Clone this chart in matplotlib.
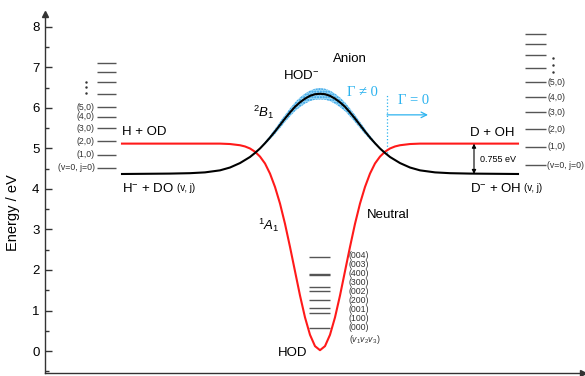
import numpy as np
import matplotlib
matplotlib.use("Agg")
import matplotlib.pyplot as plt
from matplotlib.ticker import MultipleLocator

plt.rcParams['font.family'] = ['Liberation Sans', 'DejaVu Sans']
plt.rcParams['mathtext.fontset'] = 'custom'
plt.rcParams['mathtext.rm'] = 'Liberation Sans'
plt.rcParams['mathtext.it'] = 'Liberation Sans:italic'

# reaction coordinate (arbitrary units, barrier top at 0)
neutral_q = [-198, -100, -90, -80, -75, -70, -65, -60, -55, -50, -45, -40, -35,
             -30, -25, -20, -15, -10, -5, 0, 5, 10, 15, 20, 25, 30, 35, 40, 45,
             50, 55, 60, 65, 70, 75, 80, 90, 100, 198]
neutral_E = [5.12, 5.12, 5.11, 5.08, 5.05, 5.00, 4.92, 4.80, 4.63, 4.38, 4.05, 3.64, 3.14,
             2.57, 1.97, 1.37, 0.83, 0.40, 0.12, 0.02, 0.12, 0.40, 0.83, 1.37, 1.97, 2.57, 3.14, 3.64, 4.05,
             4.38, 4.63, 4.80, 4.92, 5.00, 5.05, 5.08, 5.11, 5.12, 5.12]

anion_q = [-198, -150, -130, -115, -100, -90, -80, -70, -65, -60, -55, -50, -45, -40,
           -35, -30, -25, -20, -15, -10, -5, 0, 5, 10, 15, 20, 25, 30, 35,
           40, 45, 50, 55, 60, 65, 70, 80, 90, 100, 115, 130, 150, 198]
anion_E = [4.37, 4.38, 4.39, 4.41, 4.46, 4.53, 4.64, 4.79, 4.89, 5.00, 5.13, 5.27, 5.42, 5.58,
           5.74, 5.89, 6.03, 6.14, 6.23, 6.30, 6.34, 6.35, 6.34, 6.30, 6.23, 6.14, 6.03, 5.89, 5.74,
           5.58, 5.42, 5.27, 5.13, 5.00, 4.89, 4.79, 4.64, 4.53, 4.46, 4.41, 4.39, 4.38, 4.37]

# half width of the autodetachment band (Gamma != 0) between the crossings
band_q = [-65, -60, -55, -50, -45, -40, -35, -30, -25, -20, -15, -10, -5, 0,
          5, 10, 15, 20, 25, 30, 35, 40, 45, 50, 55, 60, 65]
band_half = [0.0, 0.015, 0.03, 0.05, 0.065, 0.08, 0.09, 0.10, 0.11, 0.12, 0.125, 0.13, 0.135, 0.14,
             0.135, 0.13, 0.125, 0.12, 0.11, 0.10, 0.09, 0.08, 0.065, 0.05, 0.03, 0.015, 0.0]

# OD(v, j) levels on the H + OD side, OH(v, j) levels on the D + OH side
od_levels = [4.53, 4.85, 5.18, 5.50, 5.78, 6.02, 6.34, 6.63, 6.88, 7.12]
oh_levels = [4.59, 5.04, 5.48, 5.89, 6.26, 6.63, 6.98, 7.32, 7.59, 7.83]
vj_labels = ['(v=0, j=0)', '(1,0)', '(2,0)', '(3,0)', '(4,0)', '(5,0)']

# HOD vibrational levels (v1 v2 v3)
hod_levels = [0.58, 0.95, 1.06, 1.25, 1.49, 1.57, 1.87, 1.91, 2.31]
hod_labels = ['(000)', '(100)', '(001)', '(200)', '(002)', '(300)', '(400)', '(003)', '(004)']

cyan = '#2db3ef'
grey = '#555555'

fig = plt.figure(figsize=(5.85, 3.76), dpi=100)
ax = fig.add_axes([45 / 585, 3 / 376, 538 / 585, 359 / 376])
ax.set_xlim(-275, 263)
ax.set_ylim(-0.543, 8.32)

# band + curves
aq = np.array(anion_q)
aE = np.array(anion_E)
mid = aE[np.isin(aq, band_q)]
bh = np.array(band_half)
ax.fill_between(band_q, mid - bh, mid + bh, facecolor='#9ad8f5', edgecolor='#2a9be6',
                hatch='......', linewidth=0, zorder=2)
ax.plot(neutral_q, neutral_E, color='#ff1a1a', lw=1.5, zorder=3)
ax.plot(anion_q, anion_E, color='black', lw=1.5, zorder=4)

# level ladders
ax.hlines(od_levels, -223, -204, color=grey, lw=1.0)
for e, lab in zip(od_levels, vj_labels):
    ax.text(-225, e, lab, ha='right', va='center', fontsize=6.3, color='#333333')
ax.plot([-234] * 3, [6.36, 6.51, 6.65], ls='none', marker='.', ms=1.5, color='#333333')

ax.hlines(oh_levels, 205, 226, color=grey, lw=1.0)
for e, lab in zip(oh_levels, vj_labels):
    ax.text(227, e, lab, ha='left', va='center', fontsize=6.3, color='#333333')
ax.plot([233] * 3, [6.89, 7.06, 7.23], ls='none', marker='.', ms=1.5, color='#333333')

ax.hlines(hod_levels, -11, 10, color=grey, lw=1.0)
lab_y = np.linspace(0.585, 2.35, len(hod_labels))
for y, lab in zip(lab_y, hod_labels):
    ax.text(29, y, lab, ha='left', va='center', fontsize=6.3, color='#333333')
ax.text(29, 0.28, r'$(v_1v_2v_3)$', ha='left', va='center', fontsize=6.3, color='#333333')

# asymptote / state labels
fs = 9.5
ax.text(-198, 5.41, 'H + OD', ha='left', va='center', fontsize=fs)
ax.text(-198, 4.02, r'H$^{-}$ + DO', ha='left', va='center', fontsize=fs)
ax.text(-143, 4.02, '(v, j)', ha='left', va='center', fontsize=7)
ax.text(195, 5.38, 'D + OH', ha='right', va='center', fontsize=fs)
ax.text(150, 4.02, r'D$^{-}$ + OH', ha='left', va='center', fontsize=fs)
ax.text(204, 4.02, '(v, j)', ha='left', va='center', fontsize=7)
ax.annotate('', xy=(154, 4.37), xytext=(154, 5.12),
            arrowprops=dict(arrowstyle='<|-|>', color='black', lw=0.8,
                            mutation_scale=6, shrinkA=0, shrinkB=0))
ax.text(160, 4.73, '0.755 eV', ha='left', va='center', fontsize=6.5)

ax.text(30, 7.21, 'Anion', ha='center', va='center', fontsize=fs)
ax.text(-19, 6.79, r'HOD$^{-}$', ha='center', va='center', fontsize=fs)
ax.text(-56, 5.88, r'$^2B_1$', ha='center', va='center', fontsize=fs)
ax.text(68, 3.36, 'Neutral', ha='center', va='center', fontsize=fs)
ax.text(-51, 3.11, r'$^1A_1$', ha='center', va='center', fontsize=fs)
ax.text(-27, -0.05, 'HOD', ha='center', va='center', fontsize=fs)

# autodetachment boundary
ax.text(42, 6.38, 'Γ ≠ 0', ha='center', va='center', fontsize=10.5,
        family='Liberation Serif', color=cyan)
ax.text(94, 6.18, 'Γ = 0', ha='center', va='center', fontsize=10.5,
        family='Liberation Serif', color=cyan)
ax.plot([67, 67], [4.90, 6.32], ls=':', lw=0.9, color=cyan)
ax.annotate('', xy=(108, 5.83), xytext=(67, 5.83),
            arrowprops=dict(arrowstyle='->', color=cyan, lw=0.9, shrinkA=0, shrinkB=0))

# axes
for s in ['top', 'right']:
    ax.spines[s].set_visible(False)
for s in ['left', 'bottom']:
    ax.spines[s].set_color('#333333')
    ax.spines[s].set_linewidth(1.0)
ax.set_xticks([])
ax.yaxis.set_major_locator(MultipleLocator(1))
ax.yaxis.set_minor_locator(MultipleLocator(0.5))
ax.tick_params(axis='y', which='major', direction='in', length=5, width=1,
               color='#333333', labelsize=9.5, pad=4)
ax.tick_params(axis='y', which='minor', direction='in', length=3, width=1, color='#333333')
ax.set_ylabel('Energy / eV', fontsize=10.5)
ax.yaxis.set_label_coords(-0.046, 0.448)
ax.plot(0, 1, '^', ms=4, color='#333333', transform=ax.transAxes, clip_on=False)
ax.plot(1, 0, '>', ms=4, color='#333333', transform=ax.transAxes, clip_on=False)

fig.savefig('out.png', dpi=100)
